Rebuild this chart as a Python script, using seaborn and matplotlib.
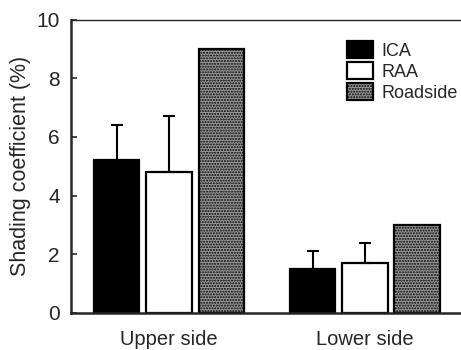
import matplotlib
matplotlib.use('Agg')
import matplotlib.pyplot as plt
import numpy as np
import pandas as pd
import seaborn as sns

sides = ['Upper side', 'Lower side']
groups = ['ICA', 'RAA', 'Roadside']
ica = [5.2, 1.5]
raa = [4.8, 1.7]
roadside = [9.0, 3.0]
ica_err = [1.2, 0.6]
raa_err = [1.9, 0.7]

df = pd.DataFrame({
    'side': sides * 3,
    'group': [g for g in groups for _ in sides],
    'value': ica + raa + roadside,
    'err': ica_err + raa_err + [0, 0],
})

sns.set_style('ticks')
plt.rcParams['font.family'] = ['Liberation Sans', 'DejaVu Sans']
plt.rcParams['hatch.linewidth'] = 1.0

fig = plt.figure(figsize=(4.61, 3.5), dpi=100)
ax = fig.add_axes([0.154, 0.106, 0.846, 0.838])

colors = {'ICA': 'black', 'RAA': 'white', 'Roadside': '#9a9a9a'}
sns.barplot(data=df, x='side', y='value', hue='group', hue_order=groups,
            order=sides, palette=colors, errorbar=None, gap=0.13,
            edgecolor='black', linewidth=1.6, saturation=1, ax=ax)

# stippled roadside bars
for bar in ax.containers[2]:
    bar.set_hatch('......')

# one-sided error bars
for cont, g in zip(ax.containers, groups):
    sub = df[df['group'] == g].set_index('side').loc[sides]
    xs = [b.get_x() + b.get_width() / 2 for b in cont]
    mask = sub['err'].values > 0
    if mask.any():
        ax.errorbar(np.array(xs)[mask], sub['value'].values[mask],
                    yerr=[np.zeros(mask.sum()), sub['err'].values[mask]],
                    fmt='none', ecolor='black', elinewidth=1.5,
                    capsize=4, capthick=1.5)

ax.set_ylim(0, 10)
ax.set_xlim(-0.5, 1.49)
ax.set_yticks([0, 2, 4, 6, 8, 10])
ax.tick_params(axis='y', direction='in', length=4, width=1.2, labelsize=15,
               pad=8)
ax.tick_params(axis='x', length=0, labelsize=14.5, pad=12)
ax.set_xlabel('')
ax.set_ylabel('Shading coefficient (%)', fontsize=15.5, labelpad=4)
for s in ['left', 'bottom']:
    ax.spines[s].set_linewidth(1.8)
ax.spines['top'].set_linewidth(1.0)
ax.spines['right'].set_visible(False)

leg = ax.legend(loc='upper left', bbox_to_anchor=(0.69, 0.95), frameon=False,
                fontsize=13, handlelength=1.4, handleheight=1.0,
                handletextpad=0.5, labelspacing=0.15, borderaxespad=0)
for h in leg.legend_handles:
    h.set_edgecolor('black')
leg.legend_handles[2].set_hatch('......')

fig.savefig('out.png', dpi=100)
